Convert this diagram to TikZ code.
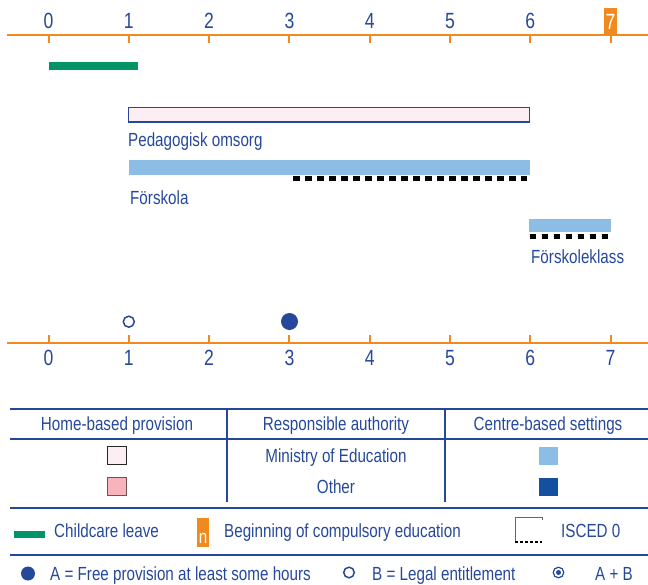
\documentclass[tikz,border=0pt]{standalone}
\usepackage{fontspec}
\setmainfont{Liberation Sans}[FakeStretch=0.8]
\definecolor{tblue}{RGB}{38,72,155}
\definecolor{orng}{RGB}{240,138,30}
\definecolor{grn}{RGB}{0,148,102}
\definecolor{lpink}{RGB}{252,238,243}
\definecolor{dpink}{RGB}{247,180,189}
\definecolor{lblue}{RGB}{141,189,229}
\definecolor{dblue}{RGB}{21,80,160}
\begin{document}
\begin{tikzpicture}[x=1pt,y=-1pt,
  axisline/.style={orng,line width=2pt},
  txt/.style={inner sep=0pt,text=tblue,font=\fontsize{19pt}{22pt}\selectfont,text height=13.6pt,text depth=0pt},
  num/.style={inner sep=0pt,text=tblue,font=\fontsize{22pt}{24pt}\selectfont,text height=15.8pt,text depth=0pt},
  lbl/.style={txt,anchor=west},
  tline/.style={tblue,line width=2.5pt},
  iscedline/.style={black,line width=5pt,dash pattern=on 6.5pt off 5.5pt},
  swatch/.style={inner sep=0pt,minimum width=19pt,minimum height=18pt,line width=1pt}]
\useasboundingbox (0,0) rectangle (648,584);
% top axis
\draw[axisline] (7,34.5) -- (648,34.5);
\foreach \n in {0,...,7}{
  \pgfmathsetmacro{\xx}{48.5+80.3*\n}
  \draw[axisline] (\xx,34.5) -- (\xx,42.5);
}
\foreach \n in {0,...,6}{
  \pgfmathsetmacro{\xx}{48.5+80.3*\n}
  \node[num] (top\n) at (\xx,21) {\n};
}
\node[num,text=white,fill=orng,minimum width=13pt,minimum height=26pt,anchor=south] (top7) at (610.6,34.5) {7};
% childcare leave bar
\fill[grn] (48.5,62) rectangle (138,69.5);
% Pedagogisk omsorg
\draw[tblue,fill=lpink,line width=1.5pt] (128.5,107.5) rectangle (529.5,122);
\node[lbl] (ped) at (128,140) {Pedagogisk omsorg};
% Forskola
\fill[lblue] (129,160) rectangle (530,175);
\draw[iscedline] (293,178.5) -- (527,178.5);
\node[lbl] (fsk) at (130,198) {Förskola};
% Forskoleklass
\fill[lblue] (529,219) rectangle (611,232);
\draw[iscedline] (529.5,236.5) -- (609,236.5);
\node[lbl] (fkk) at (531,257) {Förskoleklass};
% bottom axis
\draw[axisline] (7,343) -- (648,343);
\foreach \n in {0,...,7}{
  \pgfmathsetmacro{\xx}{48.5+80.3*\n}
  \draw[axisline] (\xx,343) -- (\xx,335);
  \node[num] (bot\n) at (\xx,357.5) {\n};
}
\draw[tblue,line width=1.5pt] (128.8,321.7) circle[radius=5.5pt];
\fill[tblue] (289.5,321.5) circle[radius=8.5pt];
% table
\draw[tline] (10,409) -- (648,409);
\draw[tline] (10,439) -- (648,439);
\draw[tline] (10,508) -- (648,508);
\draw[tline] (10,555) -- (648,555);
\draw[tline] (227,409) -- (227,502);
\draw[tline] (445,409) -- (445,502);
\node[txt] (h1) at (117,424) {Home-based provision};
\node[txt] (h2) at (336,424) {Responsible authority};
\node[txt] (h3) at (548,424) {Centre-based settings};
\node[txt] (r1) at (336,455.5) {Ministry of Education};
\node[txt] (r2) at (336,486.5) {Other};
\node[swatch,fill=lpink,draw=black!85] (s1) at (116.5,455.5) {};
\node[swatch,fill=dpink,draw=black!55!dpink] (s2) at (116.5,486.5) {};
\node[swatch,fill=lblue] (s3) at (548,455.5) {};
\node[swatch,fill=dblue] (s4) at (548,486.5) {};
% legend row 1
\fill[grn] (14,531) rectangle (45,538);
\node[lbl] (l1) at (54,530.5) {Childcare leave};
\node[txt,text=white,fill=orng,minimum width=12pt,minimum height=29pt,anchor=north,text height=9.8pt,inner sep=0pt] (l2box) at (203,518) {\raisebox{-6pt}{n}};
\node[lbl] (l2) at (224,530.5) {Beginning of compulsory education};
\draw[black!60,line width=0.8pt] (515,543) -- (515,517.5) -- (542,517.5) -- (542,520);
\draw[black,line width=2.5pt,dash pattern=on 3pt off 2pt] (515,541.8) -- (542,541.8);
\node[lbl] (l3) at (561,530.5) {ISCED 0};
% legend row 2
\fill[tblue] (28,573.5) circle[radius=7pt];
\node[lbl] (l4) at (50,573.5) {A = Free provision at least some hours};
\draw[tblue,line width=1.5pt] (349,572.5) circle[radius=5.3pt];
\node[lbl] (l5) at (372,573.5) {B = Legal entitlement};
\draw[tblue,line width=1.2pt] (558.5,572.5) circle[radius=5.3pt];
\fill[tblue] (558.5,572.5) circle[radius=2.5pt];
\node[lbl] (l6) at (595,573.5) {A + B};
\end{tikzpicture}
\end{document}
